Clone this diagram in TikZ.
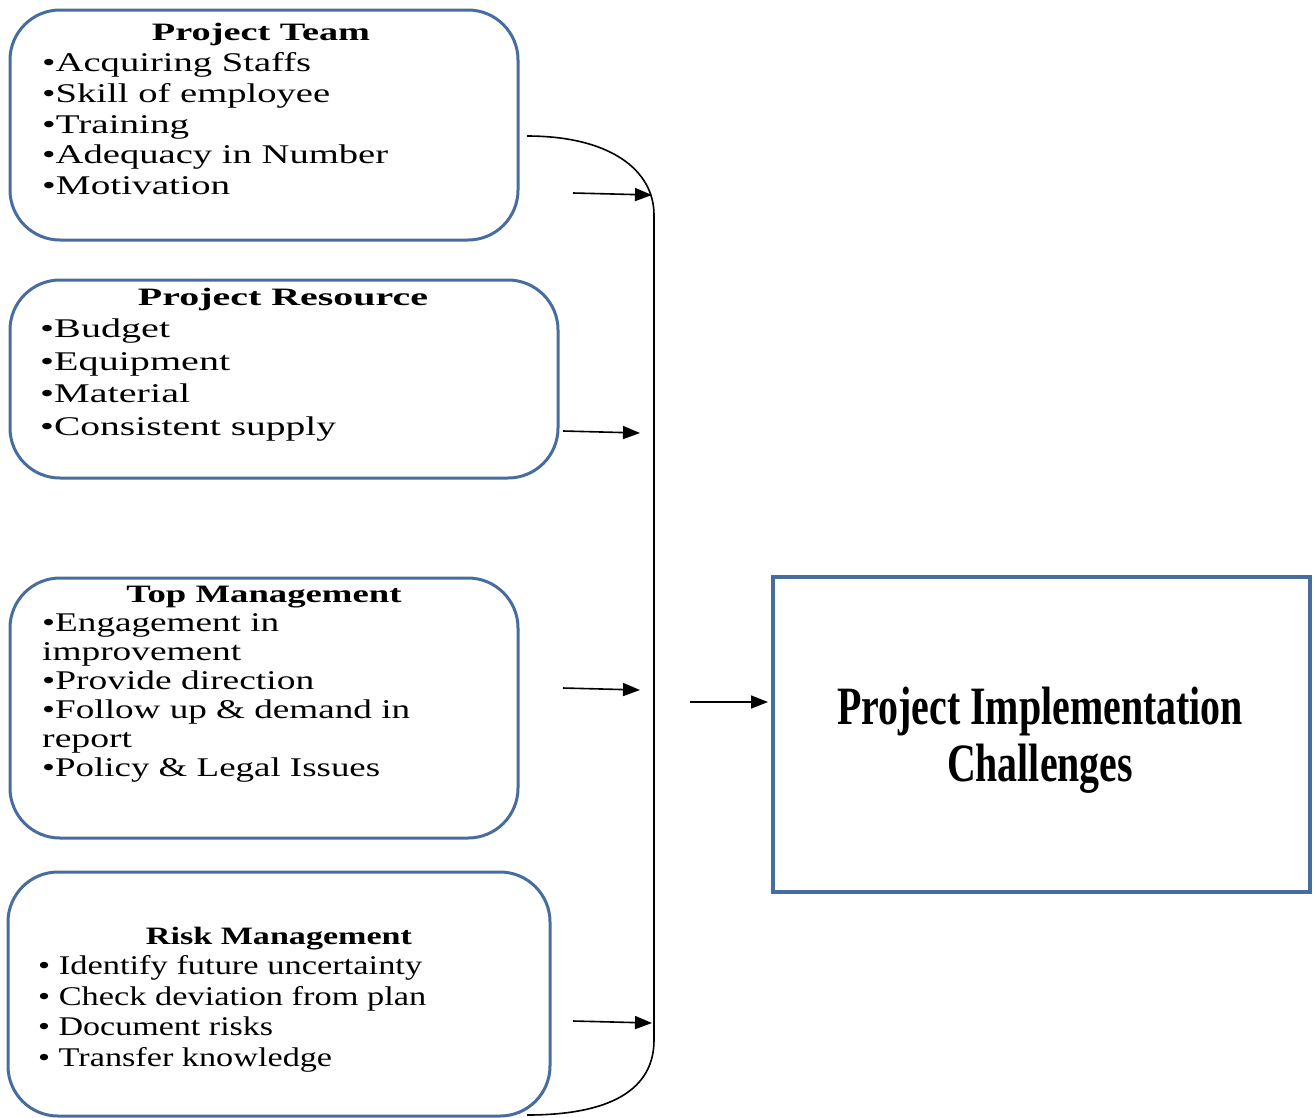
\documentclass[tikz,border=0pt]{standalone}
\usepackage{fontspec}
\setmainfont{Liberation Serif}
\usepackage{graphicx}
\usetikzlibrary{arrows.meta}
\definecolor{boxblue}{RGB}{70,108,160}
\newcommand\fitw[2]{\resizebox{#1pt}{\height}{#2}}
\begin{document}
\begin{tikzpicture}[x=1pt,y=-1pt,
  rbox/.style={draw=boxblue, line width=3pt, rounded corners=50pt, inner sep=0pt},
  tbox/.style={draw=boxblue, line width=4pt, inner sep=0pt},
  ln/.style={anchor=base west, inner sep=0pt, font=\fontsize{27}{30}\selectfont},
  ttl/.style={anchor=base, inner sep=0pt, font=\bfseries\fontsize{25}{28}\selectfont},
  big/.style={anchor=base, inner sep=0pt, font=\bfseries\fontsize{54}{60}\selectfont},
  arr/.style={line width=1.6pt, -{Triangle[length=17pt,width=13pt]}},
  brace/.style={line width=1.6pt}]
\useasboundingbox (0,0) rectangle (1314,1117);
\fill[white] (0,0) rectangle (1314,1117);

% boxes
\node[rbox, minimum width=508pt, minimum height=230pt] (b1) at (264,125) {};
\node[rbox, minimum width=548pt, minimum height=198pt] (b2) at (284,379) {};
\node[rbox, minimum width=508pt, minimum height=260pt] (b3) at (264,708) {};
\node[rbox, minimum width=542pt, minimum height=244pt] (b4) at (279,994) {};
\node[tbox, minimum width=537pt, minimum height=315pt] (tgt) at (1041.5,734.5) {};

% box 1
\node[ttl] (b1t) at (261,40) {\fitw{218}{Project Team}};
\node[ln] (b1a) at (42,71) {\fitw{269}{•Acquiring Staffs}};
\node[ln] (b1b) at (42,102) {\fitw{288}{•Skill of employee}};
\node[ln] (b1c) at (42,133) {\fitw{147}{•Training}};
\node[ln] (b1d) at (42,163) {\fitw{346}{•Adequacy in Number}};
\node[ln] (b1e) at (42,194) {\fitw{188}{•Motivation}};

% box 2
\node[ttl] (b2t) at (283,305) {\fitw{290}{Project Resource}};
\node[ln] (b2a) at (40,337) {\fitw{130}{•Budget}};
\node[ln] (b2b) at (40,370) {\fitw{190}{•Equipment}};
\node[ln] (b2c) at (40,402) {\fitw{150}{•Material}};
\node[ln] (b2d) at (40,435) {\fitw{296}{•Consistent supply}};

% box 3
\node[ttl] (b3t) at (264,602) {\fitw{275}{Top Management}};
\node[ln] (b3a) at (42,631) {\fitw{237}{•Engagement in}};
\node[ln] (b3b) at (42,660) {\fitw{199}{improvement}};
\node[ln] (b3c) at (42,689) {\fitw{272}{•Provide direction}};
\node[ln] (b3d) at (42,718) {\fitw{368}{•Follow up \& demand in}};
\node[ln] (b3e) at (42,747) {\fitw{90}{report}};
\node[ln] (b3f) at (42,776) {\fitw{338}{•Policy \& Legal Issues}};

% box 4
\node[ttl] (b4t) at (279,944) {\fitw{266}{Risk Management}};
\node[ln] (b4a) at (38,974) {\fitw{384}{• Identify future uncertainty}};
\node[ln] (b4b) at (38,1005) {\fitw{388}{• Check deviation from plan}};
\node[ln] (b4c) at (38,1035) {\fitw{235}{• Document risks}};
\node[ln] (b4d) at (38,1066) {\fitw{294}{• Transfer knowledge}};

% target text
\node[big] (tg1) at (1040,724) {\fitw{406}{Project Implementation}};
\node[big] (tg2) at (1040,781) {\fitw{186}{Challenges}};

% brace
\coordinate (bs) at (527,136);
\coordinate (bt) at (654,215);
\coordinate (bb) at (654,1040);
\coordinate (be) at (527,1115);
\draw[brace] (bs) .. controls (610,136) and (654,170) .. (bt) -- (bb)
  .. controls (654,1090) and (610,1115) .. (be);

% arrows
\coordinate (s1) at (573,193); \coordinate (e1) at (652,195);
\coordinate (s2) at (563,431); \coordinate (e2) at (640,433);
\coordinate (s3) at (563,688); \coordinate (e3) at (640,690);
\coordinate (s4) at (573,1021); \coordinate (e4) at (652,1023);
\coordinate (s5) at (690,702);
\draw[arr] (s1) -- (e1);
\draw[arr] (s2) -- (e2);
\draw[arr] (s3) -- (e3);
\draw[arr] (s4) -- (e4);
\draw[arr, shorten >=3pt] (s5) -- (s5 -| tgt.west);
\end{tikzpicture}
\end{document}
